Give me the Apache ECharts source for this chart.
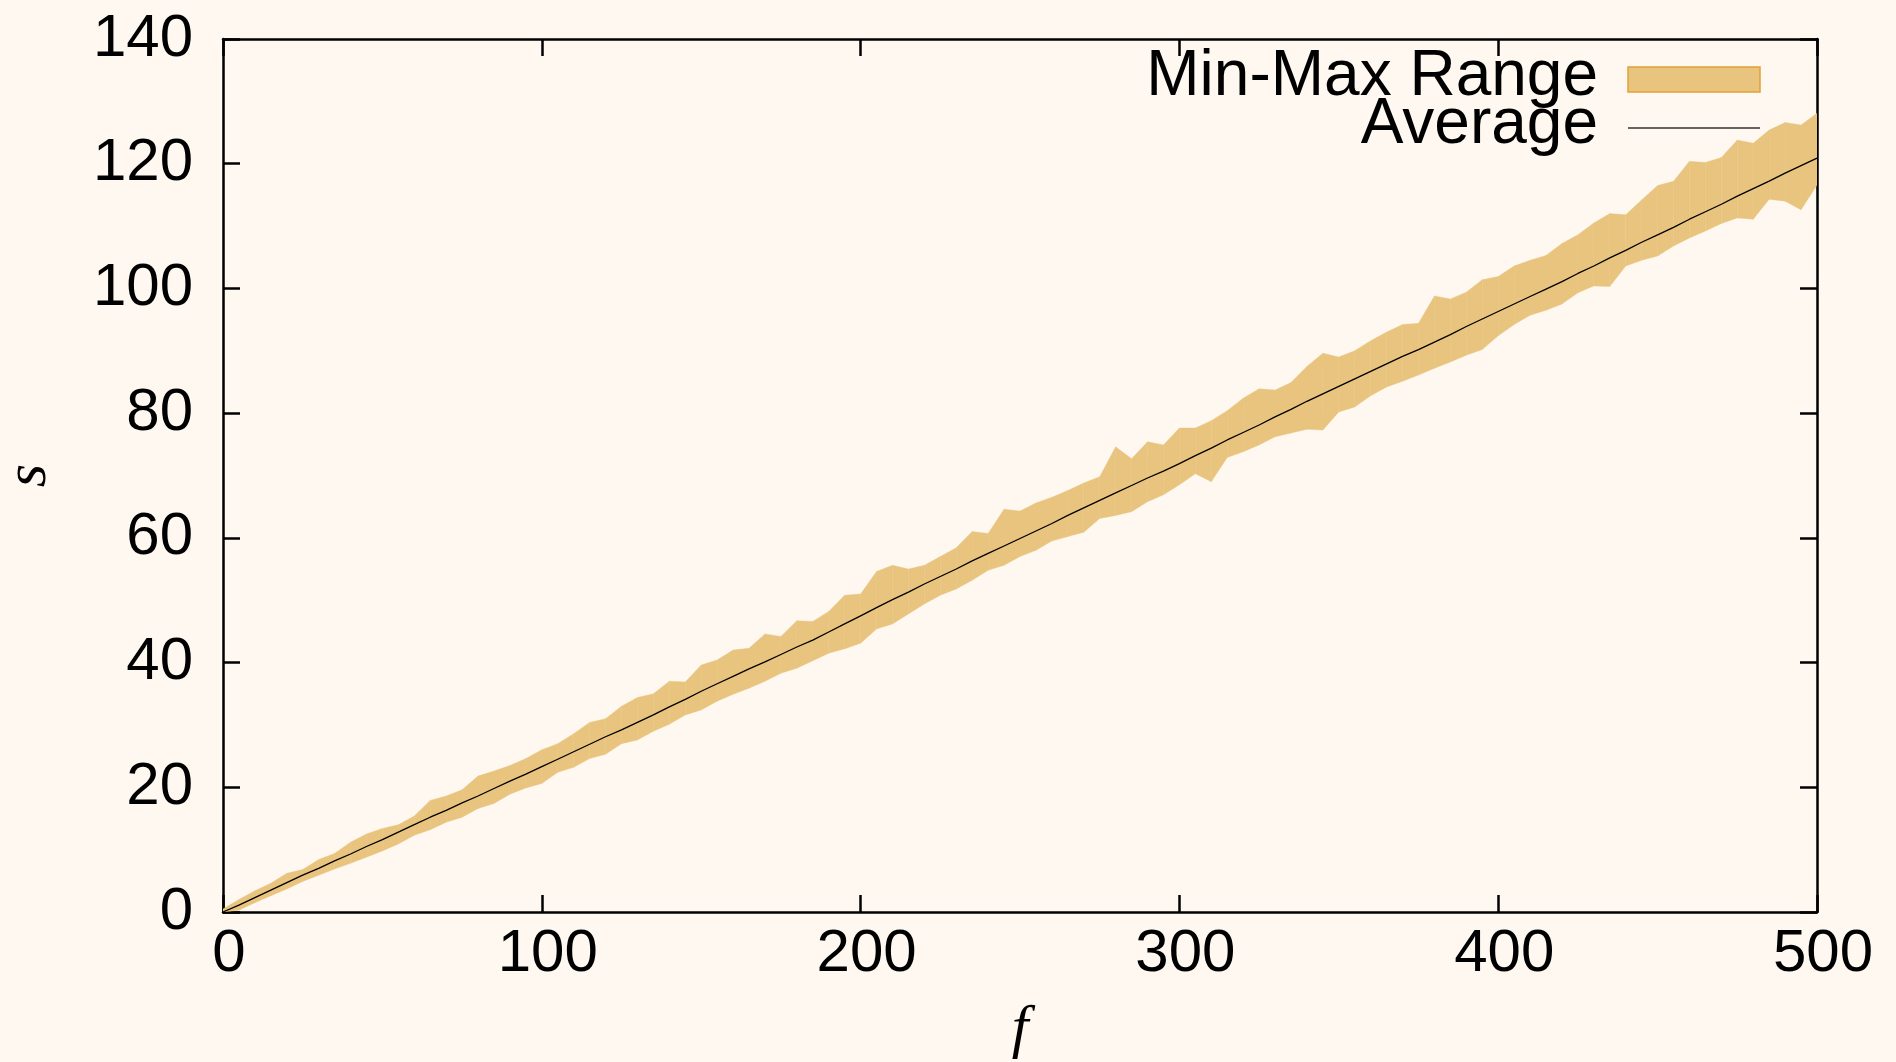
<!DOCTYPE html>
<html>
<head>
<meta charset="utf-8">
<script src="https://cdn.jsdelivr.net/npm/echarts@6/dist/echarts.min.js"></script>
<style>
html,body{margin:0;padding:0;background:#fef8f1;}
#chart{width:1896px;height:1062px;}
</style>
</head>
<body>
<div id="chart"></div>
<script>
// f values (x), sampled every 5
const fValues = [0,5,10,15,20,25,30,35,40,45,50,55,60,65,70,75,80,85,90,95,
100,105,110,115,120,125,130,135,140,145,150,155,160,165,170,175,180,185,190,195,
200,205,210,215,220,225,230,235,240,245,250,255,260,265,270,275,280,285,290,295,
300,305,310,315,320,325,330,335,340,345,350,355,360,365,370,375,380,385,390,395,
400,405,410,415,420,425,430,435,440,445,450,455,460,465,470,475,480,485,490,495,500];

const minValues = [0,0.3,1.5,2.6,3.7,4.9,5.9,6.9,7.8,8.8,9.8,10.9,12.3,13.2,14.4,15.2,16.6,17.4,18.9,19.9,
20.6,22.4,23.2,24.6,25.3,27.0,27.6,29.0,30.1,31.6,32.4,33.8,34.9,35.9,37.0,38.3,39.1,40.3,41.5,42.2,
43.1,45.4,46.2,47.8,49.4,50.8,51.8,53.2,54.8,55.6,57.0,58.0,59.5,60.2,60.9,63.1,63.6,64.2,65.8,66.9,
68.5,70.3,69.0,72.9,73.8,74.9,76.2,76.8,77.4,77.3,80.2,81.0,82.8,84.2,85.1,86.1,87.2,88.2,89.3,90.2,
92.4,94.2,95.7,96.5,97.5,99.3,100.4,100.3,103.6,104.5,105.2,106.8,108.1,109.2,110.4,111.3,111.1,114.3,114.0,112.6,116.6];

const avgValues = [0,1.1,2.3,3.5,4.7,5.9,7.0,8.2,9.3,10.5,11.6,12.8,14.0,15.2,16.3,17.5,18.6,19.8,21.0,22.1,
23.3,24.5,25.7,26.9,28.1,29.2,30.4,31.6,32.9,34.1,35.4,36.6,37.8,39.0,40.1,41.3,42.5,43.6,44.9,46.2,
47.5,48.8,50.1,51.3,52.6,53.8,55.0,56.3,57.5,58.7,59.9,61.1,62.3,63.6,64.8,66.0,67.2,68.4,69.6,70.7,
71.9,73.2,74.4,75.7,76.9,78.1,79.4,80.6,81.9,83.1,84.3,85.5,86.7,87.9,89.1,90.2,91.4,92.6,93.9,95.1,
96.3,97.5,98.7,99.9,101.1,102.4,103.6,104.9,106.1,107.4,108.6,109.8,111.1,112.3,113.5,114.8,116.0,117.2,118.5,119.7,120.9];

const maxValues = [0.5,2.0,3.4,4.6,6.2,6.8,8.4,9.4,11.2,12.5,13.4,14.0,15.4,17.9,18.6,19.6,21.8,22.6,23.5,24.6,
26.0,27.0,28.6,30.4,31.0,33.0,34.4,35.0,37.0,36.9,39.6,40.4,42.0,42.3,44.6,44.2,46.7,46.6,48.2,50.8,
51.0,54.6,55.6,55.0,55.6,57.0,58.4,61.0,60.7,64.6,64.3,65.6,66.5,67.6,68.8,69.8,74.6,72.7,75.4,74.9,
77.6,77.6,78.8,80.4,82.4,83.9,83.7,84.9,87.5,89.6,89.0,90.0,91.6,93.0,94.2,94.4,98.8,98.3,99.4,101.4,
101.9,103.6,104.5,105.3,107.2,108.6,110.5,112.0,111.8,114.2,116.5,117.2,120.4,120.2,121.0,123.8,123.3,125.4,126.6,126.2,128.1];

const xTicks = {min: 0, max: 500, interval: 100};
const yTicks = {min: 0, max: 140, interval: 20};

const FILL = '#e8c47f';
const FILL_BORDER = '#e0a236';
const SANS = '"Liberation Sans", Arial, sans-serif';
const SERIF = '"Liberation Serif", "DejaVu Serif", serif';

const bandData = fValues.map((f, i) => [f, minValues[i], maxValues[i]]);
const avgData = fValues.map((f, i) => [f, avgValues[i]]);

const chart = echarts.init(document.getElementById('chart'), null, {renderer: 'canvas'});

const axisLine = {show: true, onZero: false, lineStyle: {color: '#000', width: 2.5}};
const axisTick = {show: true, inside: true, length: 17, lineStyle: {color: '#000', width: 2.5}};

function renderBand(params, api) {
  const i = params.dataIndexInside;
  if (i >= params.dataInsideLength - 1) return null;
  const f0 = api.value(0, i), lo0 = api.value(1, i), hi0 = api.value(2, i);
  const f1 = api.value(0, i + 1), lo1 = api.value(1, i + 1), hi1 = api.value(2, i + 1);
  const pts = [api.coord([f0, lo0]), api.coord([f1, lo1]), api.coord([f1, hi1]), api.coord([f0, hi0])];
  return {
    type: 'polygon',
    shape: {points: pts},
    style: {fill: FILL, stroke: FILL, lineWidth: 0.4}
  };
}

const option = {
  backgroundColor: '#fef8f1',
  animation: false,
  grid: {left: 223, right: 79, top: 39, bottom: 150, containLabel: false, outerBoundsMode: 'none'},
  xAxis: [
    {
      type: 'value', position: 'bottom', min: xTicks.min, max: xTicks.max, interval: xTicks.interval,
      axisLine: axisLine, axisTick: axisTick, splitLine: {show: false},
      axisLabel: {color: '#000', fontSize: 60, fontFamily: SANS, margin: 12, padding: [0, 0, 0, 12]},
      name: 'f', nameLocation: 'middle', nameGap: 88,
      nameTextStyle: {color: '#000', fontSize: 60, fontFamily: SERIF, fontStyle: 'italic'}
    },
    {
      type: 'value', position: 'top', min: xTicks.min, max: xTicks.max, interval: xTicks.interval,
      axisLine: axisLine, axisTick: axisTick, splitLine: {show: false}, axisLabel: {show: false}
    }
  ],
  yAxis: [
    {
      type: 'value', position: 'left', min: yTicks.min, max: yTicks.max, interval: yTicks.interval,
      axisLine: axisLine, axisTick: axisTick, splitLine: {show: false},
      axisLabel: {color: '#000', fontSize: 60, fontFamily: SANS, margin: 30},
      name: 's', nameLocation: 'middle', nameGap: 164, nameRotate: 90,
      nameTextStyle: {color: '#000', fontSize: 60, fontFamily: SERIF, fontStyle: 'italic'}
    },
    {
      type: 'value', position: 'right', min: yTicks.min, max: yTicks.max, interval: yTicks.interval,
      axisLine: axisLine, axisTick: axisTick, splitLine: {show: false}, axisLabel: {show: false}
    }
  ],
  series: [
    {
      name: 'Min-Max Range', type: 'custom', data: bandData, renderItem: renderBand, silent: true,
      xAxisIndex: 0, yAxisIndex: 0, encode: {x: 0, y: [1, 2]}, clip: true, z: 2
    },
    {
      name: 'Average', type: 'line', data: avgData, symbol: 'none', silent: true,
      lineStyle: {color: '#000', width: 1.3}, xAxisIndex: 0, yAxisIndex: 0, z: 5
    }
  ],
  graphic: [
    {type: 'text', right: 1896 - 1598, top: 45, z: 100,
     style: {text: 'Min-Max Range', fontSize: 64, fontFamily: SANS, fill: '#000', align: 'right'}},
    {type: 'rect', shape: {x: 1628, y: 67, width: 132, height: 25}, z: 100,
     style: {fill: FILL, stroke: FILL_BORDER, lineWidth: 1.5}},
    {type: 'text', right: 1896 - 1598, top: 93, z: 100,
     style: {text: 'Average', fontSize: 64, fontFamily: SANS, fill: '#000', align: 'right'}},
    {type: 'line', shape: {x1: 1628, y1: 128, x2: 1760, y2: 128}, z: 100,
     style: {stroke: '#333', lineWidth: 1.5}}
  ]
};
chart.setOption(option);
</script>
</body>
</html>
